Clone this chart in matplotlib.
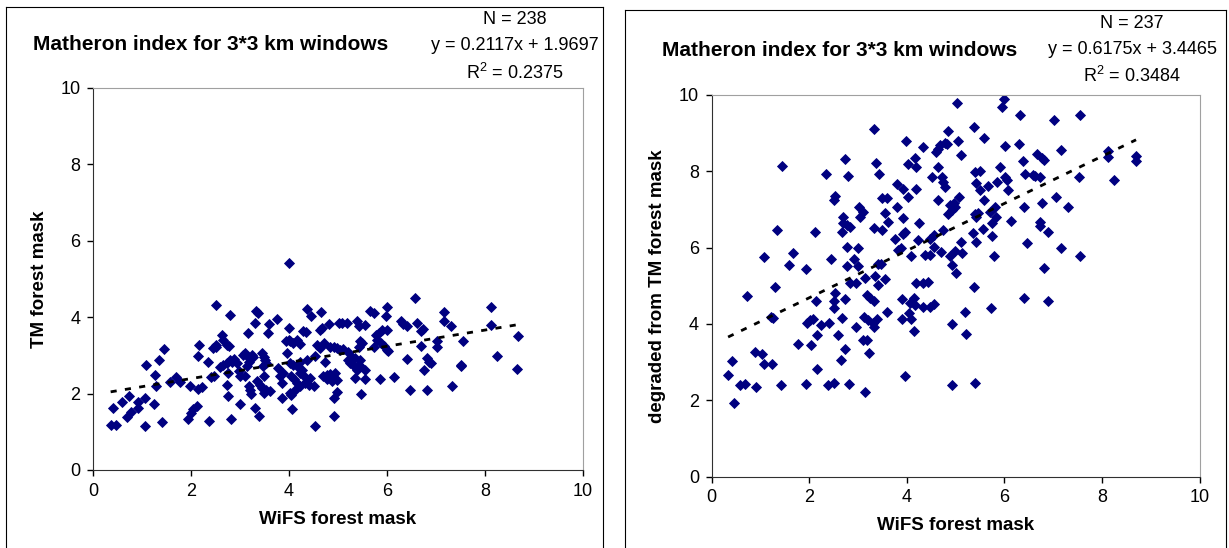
import matplotlib.pyplot as plt
from matplotlib.lines import Line2D
import numpy as np

plt.rcParams['font.family'] = ['Liberation Sans', 'DejaVu Sans']
plt.rcParams['mathtext.fontset'] = 'custom'
plt.rcParams['mathtext.rm'] = 'Liberation Sans'

# left panel: WiFS vs TM forest mask (Matheron index)
tm_x = [0.36, 0.47, 0.41, 0.6, 0.73, 0.69, 0.77, 0.91, 0.91, 1.07, 1.07, 1.09, 1.24, 1.27, 1.29,
        1.35, 1.44, 1.41, 1.58, 1.69, 1.78, 1.97, 1.94, 1.99, 2.05, 2.12, 2.15, 2.22, 2.14, 2.17,
        2.35, 2.37, 2.4, 2.47, 2.45, 2.5, 2.52, 2.52, 2.63, 2.66, 2.73, 2.78, 2.59, 2.66, 2.73,
        2.8, 2.83, 2.75, 2.73, 2.75, 2.79, 2.81, 2.87, 2.93, 2.97, 3.0, 2.99, 3.07, 3.1, 3.17,
        3.24, 3.27, 3.14, 3.19, 3.1, 3.18, 3.2, 3.22, 3.16, 3.3, 3.33, 3.36, 3.3, 3.39, 3.34,
        3.41, 3.44, 3.48, 3.54, 3.61, 3.48, 3.44, 3.48, 3.51, 3.46, 3.54, 3.57, 3.6, 3.75, 3.78,
        3.82, 3.85, 3.88, 3.86, 3.95, 3.94, 3.99, 4.02, 4.09, 4.16, 4.22, 3.99, 3.99, 4.02, 4.09,
        4.16, 4.22, 4.05, 4.1, 4.16, 4.22, 4.12, 4.05, 4.02, 4.07,
        4.36, 4.45, 4.65, 4.29, 4.35, 4.63, 4.67, 4.81, 5.03, 5.08, 5.18, 5.39, 5.42, 5.56, 5.66,
        5.73, 5.99, 5.97, 6.58, 6.29, 6.33, 6.41, 6.61, 6.74, 6.7, 7.17, 7.17, 7.31, 8.13, 8.13,
        8.68, 8.25, 8.66, 7.55, 7.5, 7.52, 7.32, 7.02, 7.02, 6.7, 6.82, 6.86, 6.9, 6.75, 6.41,
        6.82, 6.46, 6.14, 5.85, 6.0, 6.03, 5.94, 5.87, 5.8, 5.84, 5.9, 6.0, 5.77, 5.73, 5.45,
        5.49, 5.42, 5.44, 5.42, 5.39, 5.45, 5.56, 5.56, 5.35, 5.47, 5.21, 5.11, 5.04, 4.98, 4.91,
        4.84, 5.34, 5.28, 5.21, 5.25, 5.32, 5.39, 4.71, 4.57, 4.64, 4.53, 4.74, 4.36, 4.26, 4.7,
        4.77, 4.84, 4.87, 4.91, 4.94, 4.77, 4.87, 4.98, 4.98, 4.91, 4.91, 4.53, 4.23, 4.3, 4.36,
        4.43, 4.5, 4.33, 4.4]
tm_y = [1.17, 1.17, 1.63, 1.77, 1.93, 1.38, 1.51, 1.77, 1.63, 1.15, 1.89, 2.75, 1.74, 2.49, 2.21,
        2.88, 3.17, 1.26, 2.31, 2.44, 2.31, 2.19, 1.34, 1.48, 1.6, 1.67, 2.13, 2.17, 2.99, 3.27,
        2.83, 1.29, 2.43, 2.47, 3.2, 3.27, 3.22, 4.33, 3.54, 3.41, 3.28, 3.24, 2.7, 2.75, 2.8,
        2.88, 2.84, 2.54, 2.23, 1.95, 4.06, 1.34, 2.9, 2.8, 2.58, 2.47, 1.73, 3.0, 3.06, 2.97,
        3.02, 2.97, 2.73, 2.84, 2.45, 2.2, 2.1, 2.0, 3.59, 1.63, 4.16, 4.1, 3.84, 1.41, 2.32,
        2.23, 2.15, 2.02, 2.1, 2.06, 2.45, 3.06, 2.97, 2.89, 2.71, 2.8, 3.58, 3.83, 3.95, 2.67,
        2.45, 2.28, 2.54, 1.89, 3.06, 3.39, 3.41, 3.37, 3.32, 3.41, 3.3, 5.43, 3.73, 2.8, 2.76,
        2.71, 2.82, 2.45, 2.37, 2.28, 2.19, 2.1, 1.97, 2.02, 1.6,
        4.21, 4.03, 4.14, 3.63, 3.6, 3.67, 3.71, 3.83, 3.85, 3.85, 3.85, 3.89, 3.76, 3.8, 4.15,
        4.1, 4.28, 4.02, 4.51, 3.91, 3.83, 3.76, 3.84, 3.69, 3.63, 4.14, 3.89, 3.76, 4.28, 3.79,
        3.5, 2.99, 2.65, 3.39, 2.76, 2.71, 2.21, 3.37, 3.23, 3.25, 2.93, 2.84, 2.8, 2.61, 2.9,
        2.09, 2.09, 2.43, 2.38, 3.15, 3.11, 3.24, 3.32, 3.41, 3.59, 3.67, 3.67, 3.54, 3.23, 3.37,
        3.32, 3.23, 2.89, 2.76, 2.67, 2.71, 2.61, 2.38, 2.41, 2.0, 3.1, 3.18, 3.15, 3.19, 3.23,
        3.23, 2.93, 2.97, 2.89, 2.8, 2.71, 2.63, 3.32, 3.28, 3.19, 2.99, 2.82, 2.89, 2.63, 2.45,
        2.5, 2.52, 2.45, 2.41, 2.54, 2.37, 2.32, 2.35, 2.03, 1.89, 1.41, 1.15, 2.54, 2.45, 2.32,
        2.41, 2.19, 2.28, 2.23]

# right panel: WiFS vs degraded TM forest mask
dg_x = [3.32, 3.99, 4.34, 1.44, 2.73, 3.38, 4.16, 4.03, 4.2, 2.35, 2.79, 3.43, 4.51, 3.8, 3.93,
        4.2, 4.03, 2.53, 2.5, 3.49, 3.59, 3.8, 3.03, 3.11, 3.04, 3.56, 3.61, 2.7, 2.69, 2.77,
        2.84, 2.68, 3.32, 3.49, 3.93, 4.26, 3.97, 3.93, 3.76, 4.23, 4.55, 1.35, 2.12, 1.08, 1.68,
        1.59, 1.94, 2.44, 2.77, 3.0, 2.91, 2.77, 3.0, 3.42, 3.47, 3.83, 3.88, 4.08, 4.37, 4.48,
        4.55, 3.15, 3.35, 3.56, 2.84, 2.96, 3.42, 1.3, 4.2, 4.34, 4.44,
        5.03, 6.0, 5.96, 6.32, 7.02, 7.55, 5.38, 4.85, 5.58, 5.05, 4.78, 4.68, 4.64, 4.6, 4.83,
        5.11, 6.02, 6.3, 7.17, 8.13, 8.13, 8.7, 8.7, 8.25, 7.53, 6.38, 6.68, 6.77, 6.82, 6.42,
        6.63, 6.73, 6.59, 4.65, 4.72, 4.75, 4.78, 5.4, 5.5, 5.43, 5.5, 5.67, 5.91, 6.01, 6.05,
        5.86, 6.08, 4.65, 5.08, 5.58, 4.89, 4.96, 4.99, 4.85, 4.92, 5.81, 5.71, 5.84, 5.4, 5.47,
        5.43, 6.4, 6.78, 7.05, 7.31, 6.14, 6.73, 6.73, 6.9, 5.75, 5.56, 5.35, 5.43, 5.75, 5.11,
        4.75, 4.48, 6.47, 7.17, 7.55, 4.7, 4.89, 4.99, 5.14, 5.78, 4.93, 5.02, 6.81, 5.38,
        0.73, 1.27, 1.22, 0.34, 0.41, 0.46, 0.58, 0.69, 0.91, 0.9, 1.04, 1.08, 1.24, 1.42, 1.78,
        2.03, 1.94, 2.17, 2.16, 1.95, 2.02, 2.09, 2.24, 2.41, 2.14, 2.53, 2.51, 2.5, 2.73, 2.68,
        2.59, 2.73, 2.65, 2.39, 2.5, 2.82, 2.96, 3.15, 3.1, 3.18, 3.23, 3.12, 3.21, 3.3, 3.39,
        3.32, 3.18, 3.25, 3.32, 3.6, 3.9, 4.07, 4.14, 4.17, 4.34, 4.48, 4.55, 4.05, 3.9, 4.09,
        4.15, 3.97,
        6.4, 6.9, 5.73, 5.2, 4.93, 5.22, 4.93, 5.4]
dg_y = [9.09, 8.79, 8.64, 8.14, 8.32, 8.22, 8.33, 8.18, 8.1, 7.92, 7.87, 7.92, 7.84, 7.65, 7.54,
        7.54, 7.31, 7.35, 7.24, 7.29, 7.29, 7.05, 7.07, 6.94, 6.79, 6.9, 6.68, 6.79, 6.65, 6.59,
        6.54, 6.41, 6.5, 6.46, 6.76, 6.63, 6.41, 6.35, 6.22, 6.2, 6.33, 6.46, 6.41, 5.74, 5.86,
        5.54, 5.43, 5.69, 6.02, 6.0, 5.69, 5.52, 5.52, 5.57, 5.57, 5.93, 6.0, 5.78, 5.8, 5.8,
        6.02, 5.21, 5.25, 5.17, 5.08, 5.08, 5.02, 4.97, 5.08, 5.06, 5.1,
        9.79, 9.89, 9.69, 9.47, 9.34, 9.47, 9.16, 9.05, 8.86, 8.79, 8.73, 8.68, 8.57, 8.51, 8.71,
        8.41, 8.66, 8.71, 8.55, 8.53, 8.38, 8.4, 8.26, 7.77, 7.84, 8.26, 8.44, 8.35, 8.29, 7.92,
        7.87, 7.84, 7.9, 8.1, 7.85, 7.72, 7.59, 7.98, 8.0, 7.68, 7.5, 7.61, 8.1, 7.85, 7.77,
        7.72, 7.5, 7.24, 7.31, 7.24, 7.11, 7.16, 7.07, 6.89, 6.98, 7.07, 6.94, 6.81, 6.89, 6.91,
        6.81, 7.05, 7.16, 7.31, 7.07, 6.7, 6.68, 6.57, 6.41, 6.63, 6.48, 6.37, 6.14, 6.3, 6.14,
        6.46, 6.21, 6.11, 6.0, 5.78, 5.87, 5.78, 5.92, 5.85, 5.78, 5.54, 5.32, 5.46, 4.97,
        4.73, 4.15, 4.18, 2.66, 3.03, 1.94, 2.4, 2.43, 2.36, 3.26, 3.21, 2.95, 2.95, 2.39, 3.47,
        3.45, 2.43, 2.81, 3.71, 4.03, 4.09, 4.12, 3.97, 4.02, 4.61, 4.8, 4.61, 4.41, 4.64, 4.16,
        3.71, 3.33, 3.05, 2.4, 2.44, 2.43, 3.93, 2.23, 3.58, 3.58, 3.23, 4.17, 4.1, 4.02, 4.12,
        3.93, 4.76, 4.67, 4.61, 4.3, 4.65, 4.54, 4.67, 4.5, 4.45, 4.45, 4.52, 4.28, 4.12, 4.12,
        3.81, 2.64,
        4.69, 4.6, 4.41, 4.3, 4.01, 3.74, 2.39, 2.45]

titles = ['Matheron index for 3*3 km windows', 'Matheron index for 3*3 km windows']
ylabels = ['TM forest mask', 'degraded from TM forest mask']
xlabel = 'WiFS forest mask'
n_pts = [238, 237]
slopes = [0.2117, 0.6175]
intercepts = [1.9697, 3.4465]
r2 = [0.2375, 0.3484]

W, H = 1229, 548
fig = plt.figure(figsize=(W / 100, H / 100), dpi=100)


def fx(px):
    return px / W


def fy(py):
    return 1 - py / H


# panel layouts in pixels: axes box, title pos, stats centre, frame
panels = [
    dict(ax=(93, 583, 88, 470), title=(33, 45), stats=(515, 20), frame=(6, 603, 7)),
    dict(ax=(711.5, 1199.5, 94.7, 476.7), title=(662, 50), stats=(1132, 23), frame=(625, 1226, 10)),
]
data = [(tm_x, tm_y), (dg_x, dg_y)]

for i, p in enumerate(panels):
    x0, x1, y0, y1 = p['ax']
    ax = fig.add_axes([fx(x0), fy(y1), fx(x1 - x0), (y1 - y0) / H])
    xs, ys = data[i]
    ax.plot(xs, ys, linestyle='none', marker='D', ms=5.0, color='#000080', mec='#000080', mew=0.6)
    lx = np.array([min(xs), max(xs)])
    ax.plot(lx, slopes[i] * lx + intercepts[i], color='black', lw=2, dashes=(2.2, 3))
    ax.set_xlim(0, 10)
    ax.set_ylim(0, 10)
    ax.set_xticks(range(0, 11, 2))
    ax.set_yticks(range(0, 11, 2))
    ax.tick_params(direction='out', length=4, width=1, labelsize=13, colors='black', pad=5)
    for s in ['left', 'bottom']:
        ax.spines[s].set_color('#303030')
    for s in ['top', 'right']:
        ax.spines[s].set_color('#a0a0a0')
    ax.set_xlabel(xlabel, fontsize=13.5, fontweight='bold', labelpad=8)
    ax.set_ylabel(ylabels[i], fontsize=13.5, fontweight='bold', labelpad=9)

    tx, ty = p['title']
    fig.text(fx(tx), fy(ty), titles[i], fontsize=15, fontweight='bold', va='center', ha='left')
    sx, sy = p['stats']
    fig.text(fx(sx), fy(sy), 'N = %d' % n_pts[i], fontsize=13, ha='center', va='center')
    fig.text(fx(sx), fy(sy + 26), 'y = %.4fx + %.4f' % (slopes[i], intercepts[i]),
             fontsize=13, ha='center', va='center')
    fig.text(fx(sx), fy(sy + 53), 'R$^2$ = %.4f' % r2[i], fontsize=13, ha='center', va='center')

    fl, fr, ft = p['frame']
    for xs_, ys_ in [([fl, fl], [ft, H + 5]), ([fl, fr], [ft, ft]), ([fr, fr], [ft, H + 5])]:
        fig.add_artist(Line2D([fx(v) for v in xs_], [fy(v) for v in ys_], color='black', lw=0.8))

fig.savefig('out.png', dpi=100)
